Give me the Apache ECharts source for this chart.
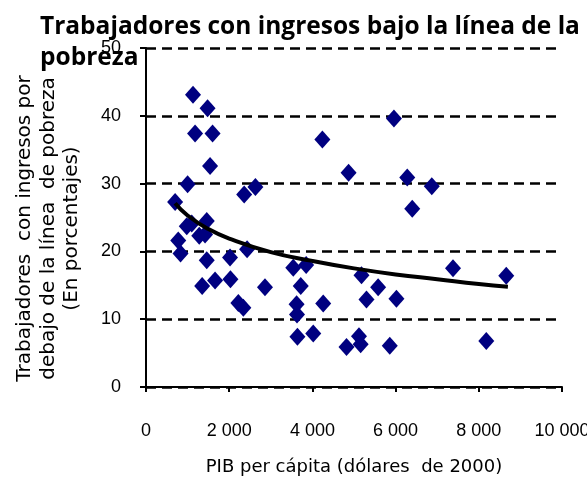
<!DOCTYPE html>
<html>
<head>
<meta charset="utf-8">
<script src="https://cdn.jsdelivr.net/npm/echarts@6/dist/echarts.min.js"></script>
<style>
  html, body { margin: 0; padding: 0; background: #fff; }
  #chart { width: 587px; height: 481px; }
</style>
</head>
<body>
<div id="chart"></div>
<script>
// PIB per cápita (x) y porcentaje de trabajadores bajo la línea de pobreza (y)
var pibValues = [700, 1130, 1480, 1180, 1600, 1540, 1000, 980, 1100, 1460, 775, 830, 1280, 1420,
    1460, 1350, 1660, 2020, 2030, 2220, 2340, 2430, 2360, 2630, 2860, 3540, 3850, 3720, 3620,
    3630, 3640, 4020, 4260, 4240, 4870, 5960, 6280, 6870, 6400, 7380, 8660, 5180, 5580, 5300,
    6020, 4820, 5120, 5160, 5860, 8180];
var pobrezaValues = [27.3, 43.1, 41.1, 37.4, 37.4, 32.6, 29.9, 23.7, 24.1, 24.5, 21.6, 19.7, 22.3, 22.5,
    18.7, 14.9, 15.7, 19.1, 15.9, 12.4, 11.7, 20.3, 28.4, 29.5, 14.7, 17.6, 18.0, 14.9, 12.2,
    10.7, 7.4, 7.9, 12.3, 36.5, 31.6, 39.6, 30.9, 29.6, 26.3, 17.5, 16.4, 16.5, 14.7, 12.9,
    13.0, 5.9, 7.5, 6.3, 6.1, 6.8];
// línea de tendencia
var trendX = [700, 1000, 1500, 2000, 3000, 4000, 5000, 6000, 7000, 8000, 8700];
var trendY = [27.1, 25.3, 23.3, 21.9, 19.9, 18.6, 17.5, 16.6, 15.9, 15.2, 14.8];
var xTicks = [0, 2000, 4000, 6000, 8000, 10000];

var points = pibValues.map(function (v, i) { return [v, pobrezaValues[i]]; });
var trend = trendX.map(function (v, i) { return [v, trendY[i]]; });

var myChart = echarts.init(document.getElementById('chart'));

var option = {
    backgroundColor: '#fff',
    animation: false,
    title: {
        text: 'Trabajadores con ingresos bajo la línea de la\npobreza',
        left: 35,
        top: 7,
        z: 10,
        textStyle: {
            fontFamily: 'Open Sans',
            fontWeight: 'bold',
            fontSize: 24.5,
            lineHeight: 31,
            color: '#000'
        }
    },
    grid: {
        left: 146,
        right: 25,
        top: 48,
        bottom: 94,
        outerBoundsMode: 'none'
    },
    xAxis: {
        type: 'value',
        min: 0,
        max: 10000,
        interval: 2000,
        name: 'PIB per cápita (dólares  de 2000)',
        nameLocation: 'middle',
        nameGap: 71,
        nameTextStyle: { fontFamily: 'DejaVu Sans', fontSize: 18, color: '#000', verticalAlign: 'top' },
        axisLine: { lineStyle: { color: '#000', width: 2 } },
        axisTick: { show: true, length: 5, lineStyle: { color: '#000', width: 2 } },
        axisLabel: {
            margin: 35,
            fontFamily: 'Liberation Sans',
            fontSize: 18,
            color: '#000',
            formatter: function (v) {
                return xTicks.indexOf(v) >= 0 ? String(v).replace(/\B(?=(\d{3})+(?!\d))/g, ' ') : '';
            }
        },
        splitLine: { show: false }
    },
    yAxis: {
        type: 'value',
        min: 0,
        max: 50,
        interval: 10,
        name: 'Trabajadores  con ingresos por\ndebajo de la línea  de pobreza\n(En porcentajes)',
        nameLocation: 'middle',
        nameGap: 62,
        nameRotate: 90,
        nameTextStyle: {
            fontFamily: 'DejaVu Sans',
            fontSize: 20,
            lineHeight: 23.5,
            color: '#000',
            padding: [0, 22, 0, 0]
        },
        axisLine: { show: true, lineStyle: { color: '#000', width: 2 } },
        axisTick: { show: true, length: 6, lineStyle: { color: '#000', width: 2 } },
        axisLabel: {
            margin: 25,
            fontFamily: 'Liberation Sans',
            fontSize: 18,
            color: '#000'
        },
        splitLine: {
            show: true,
            lineStyle: { color: '#000', width: 2.5, type: [10, 6] }
        }
    },
    series: [
        {
            name: 'países',
            type: 'scatter',
            symbol: 'diamond',
            symbolSize: [16, 18],
            itemStyle: { color: '#000080', opacity: 1 },
            data: points,
            z: 2
        },
        {
            name: 'tendencia',
            type: 'line',
            smooth: true,
            showSymbol: false,
            lineStyle: { color: '#000', width: 4 },
            data: trend,
            z: 3
        }
    ]
};

myChart.setOption(option);
</script>
</body>
</html>
